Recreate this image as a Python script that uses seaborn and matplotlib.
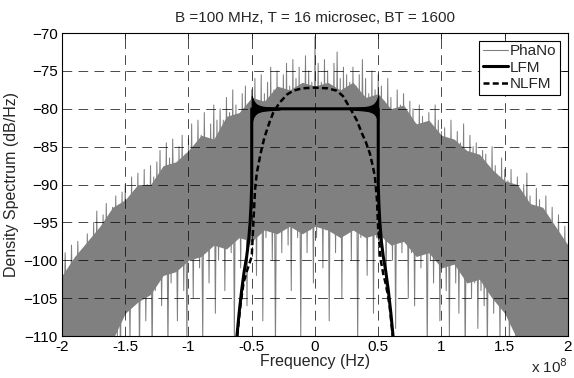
import numpy as np
import pandas as pd
import matplotlib
matplotlib.use("Agg")
import matplotlib.pyplot as plt
import seaborn as sns

# frequencies are in units of 1e8 Hz, levels in dB/Hz
# PhaNo spectrum: spike tips (every 0.025e8 Hz) and troughs in between
phano_peaks = [
    -101, -99, -103, -98, -100, -97.5, -101, -99, -96.5, -98,
    -95, -93.5, -97, -94, -92.5, -96, -93, -91.5, -94, -91,
    -90, -92.5, -89, -91, -88.5, -93, -88, -90, -87.5, -89,
    -87, -85.5, -88, -84.5, -86.5, -84, -87.5, -85, -83.5, -86,
    -84, -82, -85, -81.5, -83.5, -80.5, -84, -82, -79.5, -81.5,
    -80, -81.5, -78.5, -80.5, -77.5, -79.5, -81, -78, -77, -79.5,
    -77.5, -76, -79, -75.5, -78, -76.5, -74.5, -77.5, -75, -78,
    -75.5, -74, -77, -73.5, -76, -74.5, -77.5, -73, -75, -76.5,
    -70.5,
    -74, -76.5, -73.5, -75, -77, -74, -72.5, -76, -74.5, -75.5,
    -76.5, -74.5, -77, -75.5, -73.5, -76, -78, -75, -77.5, -75.5,
    -77, -79, -76, -78.5, -80, -77.5, -79.5, -78, -81, -79,
    -80, -82, -79.5, -81, -83, -80.5, -82.5, -79.5, -81.5, -83,
    -82.5, -84, -81.5, -85, -83, -84.5, -82, -86, -83.5, -85,
    -84.5, -87, -85.5, -86, -88.5, -85, -87.5, -89, -86.5, -88,
    -89.5, -88, -91, -89, -92.5, -90, -88.5, -91.5, -93, -90.5,
    -92, -94.5, -91.5, -95, -93, -96.5, -94, -97, -95.5, -98,
]
phano_dips = [
    -112, -108, -113, -109, -112, -107, -111, -114, -108, -112,
    -109, -113, -106, -111, -108, -112, -105, -110, -113, -107,
    -104, -111, -106, -103, -112, -105, -108, -102, -113, -104,
    -101, -106, -100, -112, -103, -99, -108, -101, -104, -111,
    -99, -105, -98, -101, -111, -98, -103, -97, -107, -100,
    -97, -104, -96, -99, -110, -96, -101, -97, -106, -98,
    -96, -102, -95, -108, -97, -95, -100, -112, -96, -99,
    -95, -98, -104, -95, -97, -110, -94, -99, -96, -103,
    -97, -94, -101, -96, -108, -95, -99, -94, -105, -96,
    -95, -100, -96, -111, -97, -94, -102, -96, -107, -97,
    -98, -96, -104, -97, -100, -109, -97, -99, -96, -105,
    -99, -106, -98, -101, -97, -112, -100, -103, -98, -108,
    -101, -104, -110, -100, -103, -107, -101, -113, -102, -105,
    -103, -109, -104, -106, -112, -103, -107, -105, -111, -106,
    -107, -112, -106, -110, -108, -113, -107, -111, -109, -114,
    -110, -108, -113, -109, -112, -110, -114, -109, -112, -111,
]
# dense body of the PhaNo spectrum (every 0.1e8 Hz)
body_top = [-102, -99.5, -97.5, -95.5, -93, -92, -90, -90, -87.5, -87,
            -85.5, -83.5, -84, -81, -80.5, -78.5, -79, -77, -77.5, -76.5,
            -77,
            -76.5, -77.5, -76.5, -78.5, -78, -80, -79.5, -82, -81.5, -83.5,
            -84, -85.5, -86, -88, -89.5, -90, -92.5, -93, -95.5, -98]
body_bottom = [-110.5, -110.5, -110.5, -110.5, -110.5, -107, -105.5, -104.5, -102, -101.5,
               -100, -99.5, -98, -98.5, -97, -97.5, -96, -96.5, -95.5, -96.5,
               -95.5,
               -96, -97, -96, -97, -96.5, -98, -97.5, -99.5, -99, -101,
               -100.5, -103, -102.5, -105, -107, -110.5, -110.5, -110.5, -110.5, -110.5]

# LFM spectrum
lfm_f = [-0.62, -0.60, -0.58, -0.56, -0.54, -0.525, -0.513, -0.505, -0.5, -0.5,
         0.5, 0.5, 0.505, 0.513, 0.525, 0.54, 0.56, 0.58, 0.60, 0.62]
lfm_db = [-110.5, -107, -104, -101.5, -99.5, -97.5, -95, -92.5, -90, -80,
          -80, -90, -92.5, -95, -97.5, -99.5, -101.5, -104, -107, -110.5]

# LFM Fresnel ripple envelope near the band edges
ripple_left_f = [-0.5, -0.49, -0.48, -0.47, -0.46, -0.44, -0.42, -0.40, -0.37, -0.33, -0.28]
ripple_right_f = [0.28, 0.33, 0.37, 0.40, 0.42, 0.44, 0.46, 0.47, 0.48, 0.49, 0.5]
ripple_left_hi = [-78.3, -78.8, -79.1, -79.3, -79.45, -79.6, -79.7, -79.75, -79.8, -79.85, -79.9]
ripple_left_lo = [-81.8, -81.2, -80.9, -80.7, -80.55, -80.4, -80.3, -80.25, -80.2, -80.15, -80.1]
ripple_right_hi = [-79.9, -79.85, -79.8, -79.75, -79.7, -79.6, -79.45, -79.3, -79.1, -78.8, -78.3]
ripple_right_lo = [-80.1, -80.15, -80.2, -80.25, -80.3, -80.4, -80.55, -80.7, -80.9, -81.2, -81.8]

# NLFM spectrum
nlfm_f = [-0.615, -0.59, -0.565, -0.54, -0.52, -0.5, -0.487, -0.474, -0.46, -0.43,
          -0.40, -0.36, -0.33, -0.28, -0.22, -0.17, -0.1, 0.0, 0.1, 0.17,
          0.22, 0.28, 0.33, 0.37, 0.40, 0.434, 0.46, 0.474, 0.49, 0.5,
          0.52, 0.54, 0.565, 0.59, 0.615]
nlfm_db = [-110, -106, -103, -101.5, -100.5, -99.5, -95, -90.7, -88.5, -85.9,
           -83.8, -81.8, -80.5, -79.2, -78.1, -77.6, -77.3, -77.2, -77.3, -77.6,
           -78.3, -80.0, -81.5, -83.2, -84.3, -85.9, -87.8, -89, -92, -96,
           -100, -101.8, -103.5, -106, -110]

xticks = [-2, -1.5, -1, -0.5, 0, 0.5, 1, 1.5, 2]
xtick_labels = ["-2", "-1.5", "-1", "-0.5", "0", "0.5", "1", "1.5", "2"]
yticks = [-110, -105, -100, -95, -90, -85, -80, -75, -70]

sns.set_style("white")
plt.rcParams["font.family"] = ["Liberation Sans", "DejaVu Sans"]
fs = 11

fig = plt.figure(figsize=(5.74, 3.78), dpi=100)
ax = fig.add_axes([0.108, 0.111, 0.8815, 0.8016])

# interleave tips and troughs into one trace
peak_f = np.linspace(-2, 2, len(phano_peaks))
dip_f = peak_f[:-1] + (peak_f[1] - peak_f[0]) / 2
trace_f = np.empty(len(phano_peaks) + len(phano_dips))
trace_db = np.empty_like(trace_f)
trace_f[0::2], trace_f[1::2] = peak_f, dip_f
trace_db[0::2], trace_db[1::2] = phano_peaks, phano_dips
phano = pd.DataFrame({"f": trace_f, "db": trace_db})
body_f = np.linspace(-2, 2, len(body_top))

ax.fill_between(body_f, body_bottom, body_top, color="0.5", lw=0, zorder=2)
sns.lineplot(data=phano, x="f", y="db", sort=False, estimator=None,
             color="0.5", lw=0.75, ax=ax, label="PhaNo", zorder=2)

ax.fill_between(ripple_left_f, ripple_left_lo, ripple_left_hi, color="black", lw=0.8, zorder=4)
ax.fill_between(ripple_right_f, ripple_right_lo, ripple_right_hi, color="black", lw=0.8, zorder=4)
sns.lineplot(x=lfm_f, y=lfm_db, sort=False, estimator=None, color="black",
             lw=2.2, ax=ax, label="LFM", zorder=4)
sns.lineplot(x=nlfm_f, y=nlfm_db, sort=False, estimator=None, color="black",
             lw=1.8, ax=ax, label="NLFM", zorder=5, dashes=False)
ax.lines[-1].set_dashes((2.4, 1.3))

ax.set_xlim(-2, 2)
ax.set_ylim(-110, -70)
ax.set_xticks(xticks)
ax.set_xticklabels(xtick_labels)
ax.set_yticks(yticks)
ax.tick_params(direction="in", length=4, width=0.6, top=True, right=True,
               labelsize=fs, pad=3, colors="black")
for s in ax.spines.values():
    s.set_visible(True)
    s.set_color("black")
    s.set_linewidth(0.8)
ax.set_axisbelow(False)
ax.grid(True, color="black", lw=0.5, linestyle=(0, (14, 9)), zorder=3)

ax.set_xlabel("Frequency (Hz)", fontsize=11.5, labelpad=0)
ax.set_ylabel("Density Spectrum (dB/Hz)", fontsize=11.5, labelpad=3)
ax.set_title("B =100 MHz, T = 16 microsec, BT = 1600", fontsize=fs, pad=8)
fig.text(0.99, 0.012, "x 10$^{8}$", ha="right", va="baseline", fontsize=fs)

leg = ax.legend(loc="upper right", fontsize=fs, frameon=True, fancybox=False,
                framealpha=1, edgecolor="black", handlelength=1.6, handletextpad=0.15,
                borderpad=0.25, labelspacing=0.15, borderaxespad=0.5)
leg.get_frame().set_linewidth(0.8)
leg.get_lines()[0].set_linewidth(0.8)

fig.savefig("out.png", dpi=100)
